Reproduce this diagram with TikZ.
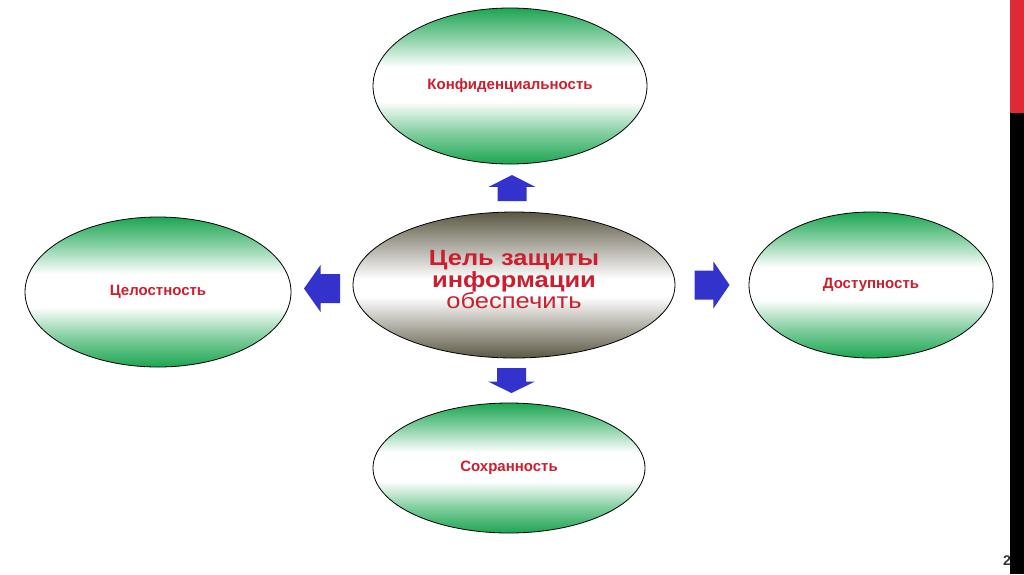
\documentclass[tikz,border=0pt]{standalone}
\usepackage{fontspec}
\setmainfont{Liberation Sans}
\newfontfamily\goalfont[FakeStretch=1.16]{Liberation Sans}
\usepackage{xcolor}
\usetikzlibrary{shapes.geometric, calc}

\definecolor{zonegreen}{RGB}{28,166,82}
\definecolor{goalolive}{RGB}{92,88,68}
\definecolor{labelred}{RGB}{204,30,46}
\definecolor{arrowblue}{RGB}{52,50,204}
\definecolor{barred}{RGB}{222,42,52}

% band shadings: coloured top and bottom, white middle
\pgfdeclareverticalshading{greenband}{100bp}{color(0bp)=(zonegreen); color(25bp)=(zonegreen);
  color(35bp)=(zonegreen!55!white); color(45bp)=(white); color(56bp)=(white);
  color(66bp)=(zonegreen!55!white); color(75bp)=(zonegreen); color(100bp)=(zonegreen)}
\pgfdeclareverticalshading{oliveband}{100bp}{color(0bp)=(goalolive); color(25bp)=(goalolive);
  color(46bp)=(white); color(52bp)=(white); color(75bp)=(goalolive); color(100bp)=(goalolive)}

\tikzset{
  zone/.style={ellipse, draw=black, line width=0.8pt, shading=greenband,
    text=labelred, font=\fontsize{15}{17}\selectfont\bfseries, inner sep=0pt},
  goal/.style={ellipse, draw=black, line width=0.8pt, shading=oliveband},
  goaltext/.style={text=labelred, align=center, inner sep=0pt,
    font=\goalfont\fontsize{22}{19}\selectfont}
}

\begin{document}
\begin{tikzpicture}[x=1pt, y=1pt]
  \useasboundingbox (0,0) rectangle (1024,-574);
  \fill[white] (0,0) rectangle (1024,-574);

  % Centre ellipse
  \node[goal, minimum width=322pt, minimum height=146pt] (ctr) at (514,-285) {};
  \node[goaltext] (ctrtxt) at (514,-280)
    {\textbf{Цель защиты}\\ \textbf{информации}\\ обеспечить};

  % Four goals round it
  \node[zone, minimum width=274pt, minimum height=156pt] (conf) at (510,-86)  {Конфиденциальность};
  \node[zone, minimum width=266pt, minimum height=150pt] (integ) at (158,-292) {Целостность};
  \node[zone, minimum width=244pt, minimum height=146pt] (avail) at (871,-285) {Доступность};
  \node[zone, minimum width=272pt, minimum height=130pt] (keep) at (509,-468) {Сохранность};

  % Block arrows half way between the centre and each goal
  \foreach \src/\dst/\ang/\len in {
    ctr.north/conf.south/90/26,
    ctr.south/keep.north/-90/25,
    ctr.west/integ.east/180/36,
    ctr.east/avail.west/0/35
  }{
    \coordinate (mid) at ($(\src)!0.5!(\dst)$);
    \pgfmathsetmacro\hd{0.46*\len}
    \begin{scope}[shift={(mid)}, rotate=\ang]
      \fill[arrowblue] (-\len/2,-14.5) -- (\len/2-\hd,-14.5) -- (\len/2-\hd,-23.5)
        -- (\len/2,0) -- (\len/2-\hd,23.5) -- (\len/2-\hd,14.5)
        -- (-\len/2,14.5) -- cycle;
    \end{scope}
  }

  % Slide edge: page number and side bar
  \node[font=\fontsize{14}{16}\selectfont\bfseries, text=black!80] (pgno) at (1007,-561) {2};
  \fill[barred] (1010,0) rectangle (1024,-113);
  \fill[black] (1010,-113) rectangle (1024,-574);
\end{tikzpicture}
\end{document}
